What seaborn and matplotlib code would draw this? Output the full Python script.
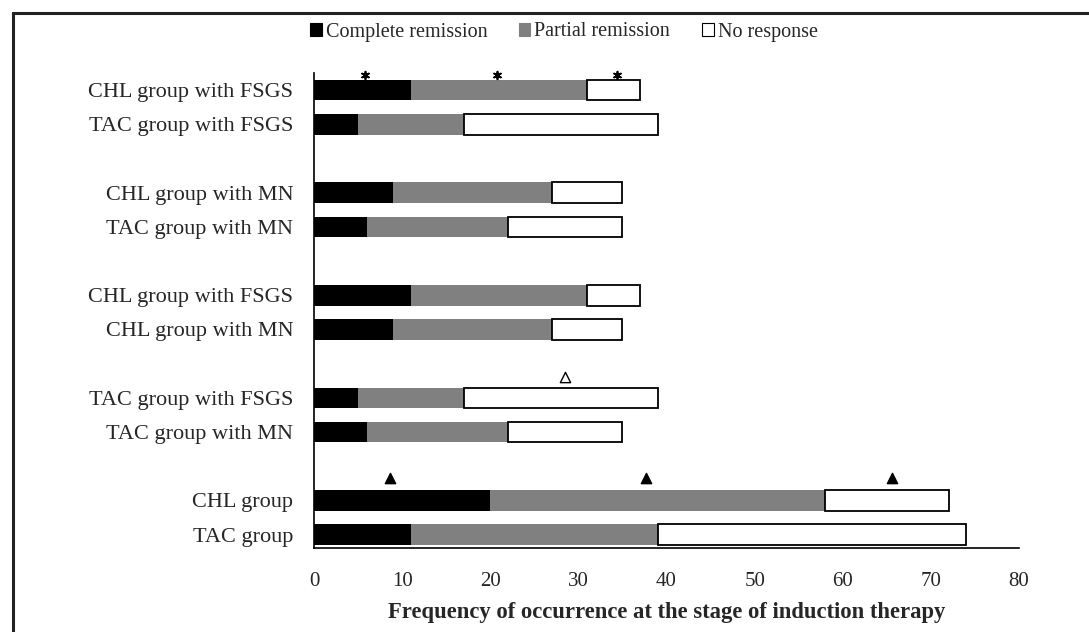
import matplotlib
matplotlib.use("Agg")
import matplotlib.pyplot as plt
import seaborn as sns
import pandas as pd
from matplotlib.patches import Patch, Rectangle

# ---- data ----
labels = ["CHL group with FSGS", "TAC group with FSGS",
          "CHL group with MN", "TAC group with MN",
          "CHL group with FSGS", "CHL group with MN",
          "TAC group with FSGS", "TAC group with MN",
          "CHL group", "TAC group"]
complete = [11, 5, 9, 6, 11, 9, 5, 6, 20, 11]
partial = [20, 12, 18, 16, 20, 18, 12, 16, 38, 28]
no_resp = [6, 22, 8, 13, 6, 8, 22, 13, 14, 35]
slots = [0, 1, 3, 4, 6, 7, 9, 10, 12, 13]
series_names = ["Complete remission", "Partial remission", "No response"]
xticks = [0, 10, 20, 30, 40, 50, 60, 70, 80]
star_x = [5.8, 20.8, 34.4]
star_slot = 0
tri_x = [8.6, 37.7, 65.6]
tri_slot = 12
open_tri_x = [28.5]
open_tri_slot = 9

sns.set_theme(style="white")
plt.rcParams["font.family"] = ["Liberation Serif", "DejaVu Serif"]

n_slots = 14
keys = [f"s{i}" for i in range(n_slots)]
df = pd.DataFrame({
    "key": [keys[s] for s in slots],
    "label": labels,
    "CR": complete,
    "PR": partial,
    "NR": no_resp,
})
df["left_PR"] = df["CR"]
df["left_NR"] = df["CR"] + df["PR"]

fig = plt.figure(figsize=(10.89, 6.32), dpi=100)
ax = fig.add_axes([314 / 1089, 1 - 548 / 632, (1019 - 314) / 1089, (548 - 73) / 632])

colors = ["#000000", "#808080", "#ffffff"]
bw = 0.6
lefts = {"CR": None, "PR": "left_PR", "NR": "left_NR"}
for col, c in zip(["CR", "PR", "NR"], colors):
    n_before = len(ax.patches)
    sns.barplot(data=df, x=col, y="key", order=keys, orient="h", color=c,
                saturation=1, errorbar=None, width=bw, ax=ax,
                edgecolor="#000000" if col == "NR" else c,
                linewidth=1.3 if col == "NR" else 0)
    new = ax.patches[n_before:]
    if lefts[col] is not None:
        for p in new:
            slot = int(round(p.get_y() + p.get_height() / 2))
            row = df[df["key"] == keys[slot]].iloc[0]
            p.set_x(row[lefts[col]])

# annotations
ax.scatter(star_x, [star_slot - 0.45] * len(star_x), marker=(6, 2, 0), s=30,
           color="black", linewidths=1.3, zorder=5, clip_on=False)
ax.scatter(tri_x, [tri_slot - 0.65] * len(tri_x), marker="^", s=55,
           color="black", zorder=5, clip_on=False)
ax.scatter(open_tri_x, [open_tri_slot - 0.62] * len(open_tri_x), marker="^", s=55,
           facecolor="white", edgecolor="black", linewidths=1.0, zorder=5, clip_on=False)

ax.set_xlim(0, 80)
ax.set_ylim(13.39, -0.5)
ax.set_xticks(xticks)
ax.set_xticklabels([str(t) for t in xticks], fontsize=15)
ytl = [""] * n_slots
for s, l in zip(slots, labels):
    ytl[s] = l
ax.set_yticks(range(n_slots))
ax.set_yticklabels(ytl, fontsize=16)
ax.tick_params(axis="both", length=0)
ax.tick_params(axis="y", pad=15)
ax.tick_params(axis="x", pad=17)
ax.set_ylabel("")
ax.set_xlabel("Frequency of occurrence at the stage of induction therapy",
              fontsize=16.3, fontweight="bold", labelpad=8)
for s in ["top", "right"]:
    ax.spines[s].set_visible(False)
for s in ["left", "bottom"]:
    ax.spines[s].set_color("black")
    ax.spines[s].set_linewidth(1.2)

handles = [Patch(facecolor=c, edgecolor="black", linewidth=0.8) for c in colors]
handles[1] = Patch(facecolor=colors[1], edgecolor=colors[1], linewidth=0.8)
fig.legend(handles, series_names, loc="center", bbox_to_anchor=(564 / 1089, 1 - 32 / 632),
           ncol=3, frameon=False, handlelength=0.55, handleheight=0.6,
           handletextpad=0.2, columnspacing=1.6, fontsize=14.5)

fig.add_artist(Rectangle((13 / 1089, -0.1), 1.2, (1 - 13 / 632) + 0.1,
                         transform=fig.transFigure, fill=False, lw=2.2,
                         edgecolor="#222222"))

fig.savefig("out.png", dpi=100)
